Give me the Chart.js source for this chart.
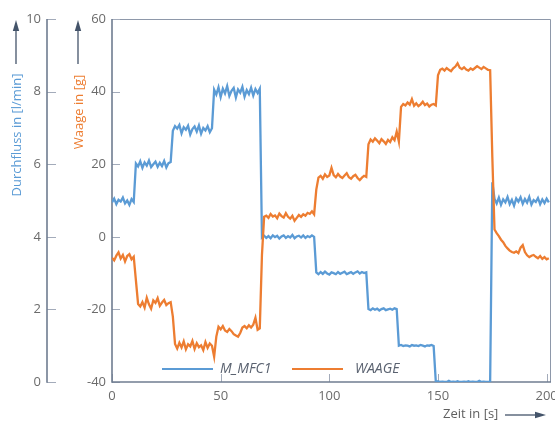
<!DOCTYPE html>
<html>
<head>
<meta charset="utf-8">
<script src="https://cdn.jsdelivr.net/npm/chart.js@4/dist/chart.umd.min.js"></script>
<style>
  html, body { margin: 0; padding: 0; background: #fff; }
  #wrap { width: 555px; height: 421px; }
</style>
</head>
<body>
<div id="wrap"><canvas id="chart" width="555" height="421"></canvas></div>
<script>
// Sampling interval of the logged signals, in seconds
const sampleStep = 1;

// Mass flow controller reading, l/min, one sample per second from t = 0 s
const flowMFC1 = [
  4.95, 5.05, 4.90, 5.02, 4.97, 5.08, 4.92, 5.00, 4.88, 5.04, 4.96,
  6.02, 5.94, 6.08, 5.90, 6.05, 5.96, 6.10, 5.92, 6.00, 6.07, 5.93, 6.04, 5.95, 6.09, 5.91, 6.03, 6.06,
  6.92, 7.05, 6.98, 7.08, 6.85, 7.02, 6.95, 7.06, 6.82, 6.97, 7.04, 6.90, 7.07, 6.84, 7.00, 6.93, 7.05, 6.88, 6.99,
  8.05, 7.92, 8.12, 7.85, 8.08, 7.95, 8.15, 7.88, 8.02, 8.10, 7.84, 8.06, 7.97, 8.13, 7.86, 8.04, 7.93, 8.11, 7.89, 8.07, 7.96, 8.08,
  3.98, 4.03, 3.97, 4.02, 3.96, 4.04, 3.99, 4.03, 3.95, 4.01, 4.04, 3.97, 4.02, 3.98, 4.05, 3.96, 4.01, 4.03, 3.98, 4.04, 3.97, 4.02, 3.99, 4.04, 4.00,
  3.02, 2.97, 3.03, 2.98, 3.04, 2.99, 2.96, 3.02, 3.00, 2.97, 3.03, 2.98, 3.01, 3.04, 2.97, 3.00, 3.03, 2.98, 3.02, 3.05, 2.99, 3.03, 3.00, 3.02,
  2.01, 1.98, 2.03, 1.99, 2.02, 1.97, 2.01, 2.03, 1.98, 2.00, 2.02, 1.99, 2.03, 2.01,
  1.00, 1.02, 0.99, 1.01, 1.00, 0.98, 1.02, 1.00, 1.01, 0.99, 1.02, 1.00, 0.98, 1.01, 1.00, 1.02, 0.99,
  0.00, 0.02, 0.00, 0.01, 0.00, 0.00, 0.03, 0.00, 0.01, 0.00, 0.02, 0.00, 0.00, 0.01, 0.00, 0.02, 0.00, 0.01, 0.00, 0.00, 0.03, 0.00, 0.01, 0.00, 0.00, 0.01,
  5.50, 5.05, 4.92, 5.08, 4.88, 5.03, 4.95, 5.10, 4.90, 5.02, 4.86, 5.06, 4.97, 5.09, 4.91, 5.04, 4.94, 5.10, 4.89, 5.01, 4.96, 5.07, 4.90, 5.03, 4.93, 5.05, 4.95
];

// Balance reading, g, same time base
const massWaage = [
  -5.8, -6.5, -5.2, -4.3, -6.0, -5.0, -6.8, -5.3, -4.8, -6.2, -5.5,
  -12.0, -18.5, -19.2, -18.0, -19.5, -16.8, -18.6, -19.8, -17.5, -18.2, -16.9, -19.0, -18.1, -17.4, -18.8, -18.3, -18.0,
  -22.0, -29.5, -30.8, -29.2, -30.5, -28.8, -31.0, -29.6, -30.2, -28.7, -30.9, -29.3, -30.4, -29.9, -31.2, -29.0, -30.6, -29.4, -30.0, -33.0, -27.5,
  -24.8, -25.5, -24.6, -25.8, -26.2, -25.4, -26.0, -26.8, -27.2, -27.5, -26.5, -25.0, -24.6, -25.2, -24.4, -25.0, -24.2, -22.3, -25.6, -25.2,
  -5.0, 5.5, 5.8, 5.2, 6.3, 5.6, 5.9, 5.1, 6.4, 5.7, 5.3, 6.5, 5.5, 5.0, 5.8, 4.4, 5.2, 6.0, 5.5, 6.2, 5.8, 6.6, 6.3, 7.0, 6.2,
  13.0, 16.3, 16.8, 16.0, 17.2, 16.5, 16.9, 19.0, 17.0, 16.4, 17.3, 16.6, 16.2, 16.9, 17.5, 16.4, 16.0, 16.7, 17.1, 16.2, 15.6, 16.3, 16.8, 16.5,
  25.5, 26.8, 26.2, 27.1, 26.5, 25.8, 26.9, 26.3, 25.6, 26.7, 26.1, 27.4, 26.6, 29.0, 26.2,
  35.8, 36.6, 36.2, 37.0, 36.4, 37.9, 36.1, 36.8, 36.0, 36.5, 37.2, 36.3, 36.7, 35.9, 36.4, 36.6, 36.2,
  44.5, 46.0, 46.3, 45.8, 46.5, 46.0, 45.6, 46.4, 46.9, 47.8, 46.6, 46.2, 46.7, 46.1, 45.8, 46.4, 46.0, 46.5, 47.0, 46.6, 46.2, 46.8, 46.4, 46.0, 45.9,
  22.0, 2.0, 1.0, 0.2, -0.8, -1.5, -2.5, -3.2, -3.8, -4.2, -4.4, -4.0, -4.5, -3.0, -2.3, -4.2, -5.1, -5.6, -5.2, -5.0, -5.5, -5.9, -5.3, -6.1, -5.6, -6.2, -5.9
];

// Axis tick values
const timeTicks = [0, 50, 100, 150, 200];
const flowTicks = [0, 2, 4, 6, 8, 10];
const massTicks = [-40, -20, 0, 20, 40, 60];

// Axis titles and series names
const seriesNames = ['M_MFC1', 'WAAGE'];
const flowTitle = 'Durchfluss in [l/min]';
const massTitle = 'Waage in [g]';
const timeTitle = 'Zeit in [s]';

const BLUE = '#5b9bd5';
const ORANGE = '#ed7d31';
const AXIS = '#6f7c90';
const TICK_TXT = '#6b6b6b';
const ARROW = '#44546a';
const FONT = '"Open Sans", "DejaVu Sans", sans-serif';

const toPoints = arr => arr.map((v, i) => ({ x: i * sampleStep, y: v }));

function line(ctx, x1, y1, x2, y2) {
  ctx.beginPath(); ctx.moveTo(x1, y1); ctx.lineTo(x2, y2); ctx.stroke();
}

function arrow(ctx, x1, y1, x2, y2) {
  // shaft from (x1,y1) to the head at (x2,y2)
  const ang = Math.atan2(y2 - y1, x2 - x1);
  const len = 11, half = 3.2;
  ctx.save();
  ctx.strokeStyle = ARROW; ctx.fillStyle = ARROW; ctx.lineWidth = 1.3;
  const bx = x2 - Math.cos(ang) * len, by = y2 - Math.sin(ang) * len;
  line(ctx, x1, y1, bx, by);
  ctx.beginPath();
  ctx.moveTo(x2, y2);
  ctx.lineTo(bx - Math.sin(ang) * half, by + Math.cos(ang) * half);
  ctx.lineTo(bx + Math.sin(ang) * half, by - Math.cos(ang) * half);
  ctx.closePath(); ctx.fill();
  ctx.restore();
}

// Axis lines, tick marks and the plot frame
const framePlugin = {
  id: 'frame',
  beforeDatasetsDraw(chart) {
    const { ctx, chartArea: a, scales } = chart;
    const xs = scales.x, ym = scales.yMass, yf = scales.yFlow;
    ctx.save();
    ctx.strokeStyle = '#8e98aa'; ctx.lineWidth = 1;
    ctx.beginPath();
    ctx.moveTo(a.left, a.top + 0.5); ctx.lineTo(a.right - 0.5, a.top + 0.5); ctx.lineTo(a.right - 0.5, a.bottom);
    ctx.stroke();

    ctx.strokeStyle = '#a3abba'; ctx.lineWidth = 1;
    ym.ticks.forEach(t => { const y = Math.round(ym.getPixelForValue(t.value)) + 0.5; line(ctx, a.left, y, a.left + 8, y); });
    yf.ticks.forEach(t => { const y = Math.round(yf.getPixelForValue(t.value)) + 0.5; line(ctx, yf.right, y, yf.right + 9, y); });
    xs.ticks.forEach(t => { const px = Math.round(xs.getPixelForValue(t.value)) + 0.5; line(ctx, px, a.bottom, px, a.bottom - 8); });

    ctx.strokeStyle = AXIS; ctx.lineWidth = 1.6;
    line(ctx, a.left, a.top, a.left, a.bottom + 0.8);
    line(ctx, yf.right, yf.getPixelForValue(10), yf.right, yf.getPixelForValue(0) + 0.8);
    line(ctx, a.left, a.bottom, a.right, a.bottom);
    ctx.restore();
  },
  afterDraw(chart) {
    const { ctx } = chart;
    const ds = chart.data.datasets;
    ctx.save();
    // axis titles with direction arrows
    ctx.font = '13px ' + FONT;
    ctx.textBaseline = 'middle';
    ctx.textAlign = 'center';
    ctx.save(); ctx.translate(17, 135); ctx.rotate(-Math.PI / 2); ctx.fillStyle = BLUE; ctx.fillText(flowTitle, 0, 0); ctx.restore();
    ctx.save(); ctx.translate(79, 112); ctx.rotate(-Math.PI / 2); ctx.fillStyle = ORANGE; ctx.fillText(massTitle, 0, 0); ctx.restore();
    arrow(ctx, 16, 64, 16, 20);
    arrow(ctx, 78, 64, 78, 20);
    ctx.textAlign = 'left';
    ctx.fillStyle = '#5f5f5f';
    ctx.fillText(timeTitle, 443, 414);
    arrow(ctx, 505, 415, 546, 415);

    // legend inside the plot
    ctx.font = 'italic 14px ' + FONT;
    ctx.textBaseline = 'middle';
    const ly = 369;
    const items = [{ x: 162, tx: 220 }, { x: 292, tx: 355 }];
    items.forEach((it, i) => {
      ctx.strokeStyle = ds[i].borderColor; ctx.lineWidth = 2.2;
      line(ctx, it.x, ly, it.x + 51, ly);
      ctx.fillStyle = '#5a6270';
      ctx.fillText(ds[i].label, it.tx, ly);
    });
    ctx.restore();
  }
};

const tickFont = { family: FONT, size: 13 };

new Chart(document.getElementById('chart'), {
  type: 'line',
  data: {
    datasets: [
      { label: seriesNames[0], data: toPoints(flowMFC1), yAxisID: 'yFlow',
        borderColor: BLUE, backgroundColor: BLUE, borderWidth: 2.3, pointRadius: 0, tension: 0, order: 1 },
      { label: seriesNames[1], data: toPoints(massWaage), yAxisID: 'yMass',
        borderColor: ORANGE, backgroundColor: ORANGE, borderWidth: 2.3, pointRadius: 0, tension: 0, order: 0 }
    ]
  },
  options: {
    responsive: false,
    animation: false,
    devicePixelRatio: 1,
    layout: { padding: { left: 0, right: 4, top: 19, bottom: 0 } },
    plugins: { legend: { display: false }, tooltip: { enabled: false } },
    scales: {
      x: {
        type: 'linear', min: 0, max: 202,
        grid: { display: false, drawTicks: false }, border: { display: false },
        ticks: { font: tickFont, color: TICK_TXT, padding: 6, maxRotation: 0, autoSkip: false },
        afterBuildTicks: s => { s.ticks = timeTicks.map(v => ({ value: v })); },
        afterFit: s => { s.height = 39; s.paddingLeft = 0; s.paddingRight = 0; }
      },
      yMass: {
        type: 'linear', position: 'left', weight: 0, min: -40, max: 60,
        grid: { display: false, drawTicks: false }, border: { display: false },
        ticks: { font: tickFont, color: TICK_TXT, padding: 6 },
        afterBuildTicks: s => { s.ticks = massTicks.map(v => ({ value: v })); },
        afterFit: s => { s.width = 65; }
      },
      yFlow: {
        type: 'linear', position: 'left', weight: 1, min: 0, max: 10,
        grid: { display: false, drawTicks: false }, border: { display: false },
        ticks: { font: tickFont, color: TICK_TXT, padding: 6 },
        afterBuildTicks: s => { s.ticks = flowTicks.map(v => ({ value: v })); },
        afterFit: s => { s.width = 47; }
      }
    }
  },
  plugins: [framePlugin]
});
</script>
</body>
</html>
